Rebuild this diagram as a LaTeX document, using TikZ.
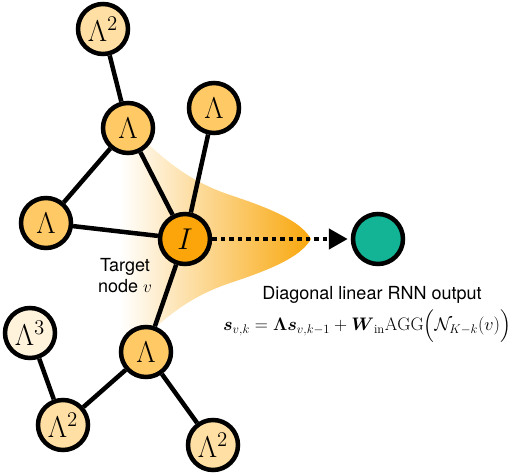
\documentclass[tikz,border=0pt]{standalone}
\usepackage{amsmath}
\usepackage{fontspec}
\newfontfamily\heros{TeX Gyre Heros}
\usetikzlibrary{arrows.meta}
\definecolor{fanorange}{HTML}{F9A70C}
\definecolor{selforange}{HTML}{FBA50A}
\definecolor{hopone}{HTML}{FFC966}
\definecolor{hoptwo}{HTML}{FFDFA3}
\definecolor{hopthree}{HTML}{FFF3DC}
\definecolor{outteal}{HTML}{12B495}
\newcommand{\sq}{{\heros 2}}
\newcommand{\cb}{{\heros 3}}
\newcommand{\lbl}[1]{\scalebox{1.45}{$#1$}}
\begin{document}
\begin{tikzpicture}
[x=1pt,y=-1pt,every node/.style={circle,draw,line width=4.5pt,minimum size=50pt,inner sep=0pt,font=\fontsize{20.74}{25}\selectfont},
 hop1/.style={fill=hopone},hop2/.style={fill=hoptwo},hop3/.style={fill=hopthree}]
   \useasboundingbox (0,0) rectangle (514,476);
   % spread of the signal towards the output
   \shade[left color=white,middle color=fanorange!80,right color=fanorange]
     (120,115) .. controls (165,165) and (195,183) .. (230,195)
     .. controls (282,212) and (302,224) .. (311,239)
     .. controls (302,254) and (282,266) .. (230,283)
     .. controls (195,295) and (165,313) .. (120,363) -- cycle;
   \node[fill=selforange] (v_0) at (185,239) {\lbl{I}};
   \node[hop1] (v_1) at (128,128) {\lbl{\Lambda}};
   \node[hop1] (v_2) at (214,108) {\lbl{\Lambda}};
   \node[hop1] (v_3) at (46,223) {\lbl{\Lambda}};
   \node[hop1] (v_4) at (146,352) {\lbl{\Lambda}};
   \node[hop2] (v_5) at (103,29) {\lbl{\Lambda^{\sq}}};
   \node[hop2] (v_6) at (63,425) {\lbl{\Lambda^{\sq}}};
   \node[hop2] (v_7) at (213,445) {\lbl{\Lambda^{\sq}}};
   \node[hop3] (v_8) at (30,333) {\lbl{\Lambda^{\cb}}};
   \node[fill=outteal] (out) at (378,239) {};
    \path[-,draw,line width=4.5pt]
    (v_5) edge (v_1)
    (v_1) edge (v_3)
    (v_1) edge (v_0)
    (v_2) edge (v_0)
    (v_3) edge (v_0)
    (v_0) edge (v_4)
    (v_4) edge (v_6)
    (v_8) edge (v_6)
    (v_4) edge (v_7);
    \draw[line width=4.5pt,dash pattern=on 4.5pt off 4pt,-{Triangle[length=19pt,width=20pt]},shorten >=3pt]
    (v_0) -- (out);
   \node[draw=none,minimum size=0pt,align=center,font=\heros\fontsize{18}{21}\selectfont] (target) at (125,276) {Target\\node $v$};
   \node[draw=none,minimum size=0pt,inner sep=0pt,font=\heros\fontsize{18}{21}\selectfont] (caption) at (372,295) {Diagonal linear RNN output};
   \node[draw=none,minimum size=0pt,inner sep=0pt,font=\fontsize{17.28}{20}\selectfont] (update) at (367,326)
     {\scalebox{1.05}{$\boldsymbol{s}_{v,k}=\boldsymbol{\Lambda}\boldsymbol{s}_{v,k-1}+\boldsymbol{W}_{\mathrm{in}}\mathrm{AGG}\Big(\mathcal{N}_{K-k}(v)\Big)$}};
\end{tikzpicture}
\end{document}
